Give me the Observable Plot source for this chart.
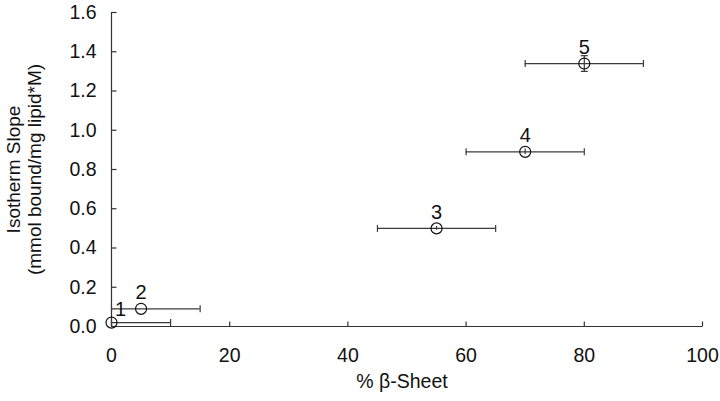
<!DOCTYPE html>
<html>
<head>
<meta charset="utf-8">
<script src="https://cdn.jsdelivr.net/npm/d3@7"></script>
<script src="https://cdn.jsdelivr.net/npm/@observablehq/plot@0.6"></script>
<style>
  html, body { margin: 0; padding: 0; background: #fff; }
  svg { font-family: "Liberation Sans", Arial, sans-serif; }
</style>
</head>
<body>
<div id="chart"></div>
<script>
// Data
const labels = ["1", "2", "3", "4", "5"];
const betaSheet = [0, 5, 55, 70, 80];          // % β-Sheet
const slope = [0.02, 0.09, 0.50, 0.89, 1.34];  // isotherm slope
const xErr = [10, 10, 10, 10, 10];
const yErr = [0, 0, 0.01, 0.015, 0.04];
const xTicks = [0, 20, 40, 60, 80, 100];
const yTicks = [0, 0.2, 0.4, 0.6, 0.8, 1.0, 1.2, 1.4, 1.6];

const pts = labels.map((l, i) => ({
  label: l, x: betaSheet[i], y: slope[i],
  xlo: Math.max(0, betaSheet[i] - xErr[i]), xhi: betaSheet[i] + xErr[i],
  ylo: slope[i] - yErr[i], yhi: slope[i] + yErr[i], ye: yErr[i]
}));

// custom symbols for caps and inward ticks
const vCap = { draw(ctx, size) { const r = 3.5; ctx.moveTo(0, -r); ctx.lineTo(0, r); } };
const hCap = { draw(ctx, size) { const r = 3.5; ctx.moveTo(-r, 0); ctx.lineTo(r, 0); } };
const tickUp = { draw(ctx, size) { ctx.moveTo(0, 0); ctx.lineTo(0, -5); } };
const tickRight = { draw(ctx, size) { ctx.moveTo(0, 0); ctx.lineTo(5, 0); } };

const barColor = "#3a3a3a";
const yErrPts = pts.filter(d => d.ye > 0);

const chart = Plot.plot({
  width: 720,
  height: 401,
  marginLeft: 111,
  marginRight: 18,
  marginTop: 12,
  marginBottom: 75,
  style: { fontFamily: "Liberation Sans, Arial, sans-serif", background: "#fff" },
  x: { domain: [0, 100] },
  y: { domain: [0, 1.6] },
  marks: [
    // axis labels
    Plot.axisX({ ticks: xTicks, tickSize: 0, tickPadding: 22, fontSize: 19.5, label: null, color: "#111" }),
    Plot.axisY({ ticks: yTicks, tickSize: 0, tickPadding: 15, fontSize: 19.5, label: null, tickFormat: d3.format(".1f"), color: "#111" }),
    // axis lines
    Plot.ruleY([0], { x1: 0, x2: 100, stroke: "#333", strokeWidth: 1.2 }),
    Plot.ruleX([0], { y1: 0, y2: 1.6, stroke: "#333", strokeWidth: 1.2 }),
    // inward ticks
    Plot.dot(xTicks, { x: d => d, y: 0, symbol: tickUp, stroke: "#333", strokeWidth: 1.2, r: 4 }),
    Plot.dot(yTicks, { x: 0, y: d => d, symbol: tickRight, stroke: "#333", strokeWidth: 1.2, r: 4 }),
    // horizontal error bars
    Plot.ruleY(pts, { y: "y", x1: "xlo", x2: "xhi", stroke: barColor, strokeWidth: 1.2 }),
    Plot.dot(pts, { x: "xlo", y: "y", symbol: vCap, stroke: barColor, strokeWidth: 1.2, r: 4 }),
    Plot.dot(pts, { x: "xhi", y: "y", symbol: vCap, stroke: barColor, strokeWidth: 1.2, r: 4 }),
    // vertical error bars
    Plot.ruleX(yErrPts, { x: "x", y1: "ylo", y2: "yhi", stroke: barColor, strokeWidth: 1.2 }),
    Plot.dot(yErrPts.filter(d => d.ye > 0.02), { x: "x", y: "ylo", symbol: hCap, stroke: barColor, strokeWidth: 1.2, r: 4 }),
    Plot.dot(yErrPts.filter(d => d.ye > 0.02), { x: "x", y: "yhi", symbol: hCap, stroke: barColor, strokeWidth: 1.2, r: 4 }),
    // points
    Plot.dot(pts, { x: "x", y: "y", r: 5.5, stroke: "#111", strokeWidth: 1.2, fill: "none" }),
    // point labels
    Plot.text(pts.filter(d => d.label !== "1"), { x: "x", y: "y", text: "label", dy: -16, fontSize: 20, fill: "#111" }),
    Plot.text(pts.filter(d => d.label === "1"), { x: "x", y: "y", text: "label", dx: 9, dy: -13, fontSize: 20, fill: "#111" }),
    // axis titles
    Plot.text(["% β-Sheet"], { frameAnchor: "bottom", dy: 55, dx: -5, lineAnchor: "middle", textAnchor: "middle", fontSize: 19.5, fill: "#111" }),
    Plot.text(["Isotherm Slope\n(mmol bound/mg lipid*M)"], { frameAnchor: "left", rotate: -90, dx: -88, lineAnchor: "middle", textAnchor: "middle", fontSize: 19, lineHeight: 1.1, fill: "#111" })
  ]
});
document.getElementById("chart").appendChild(chart);
</script>
</body>
</html>
